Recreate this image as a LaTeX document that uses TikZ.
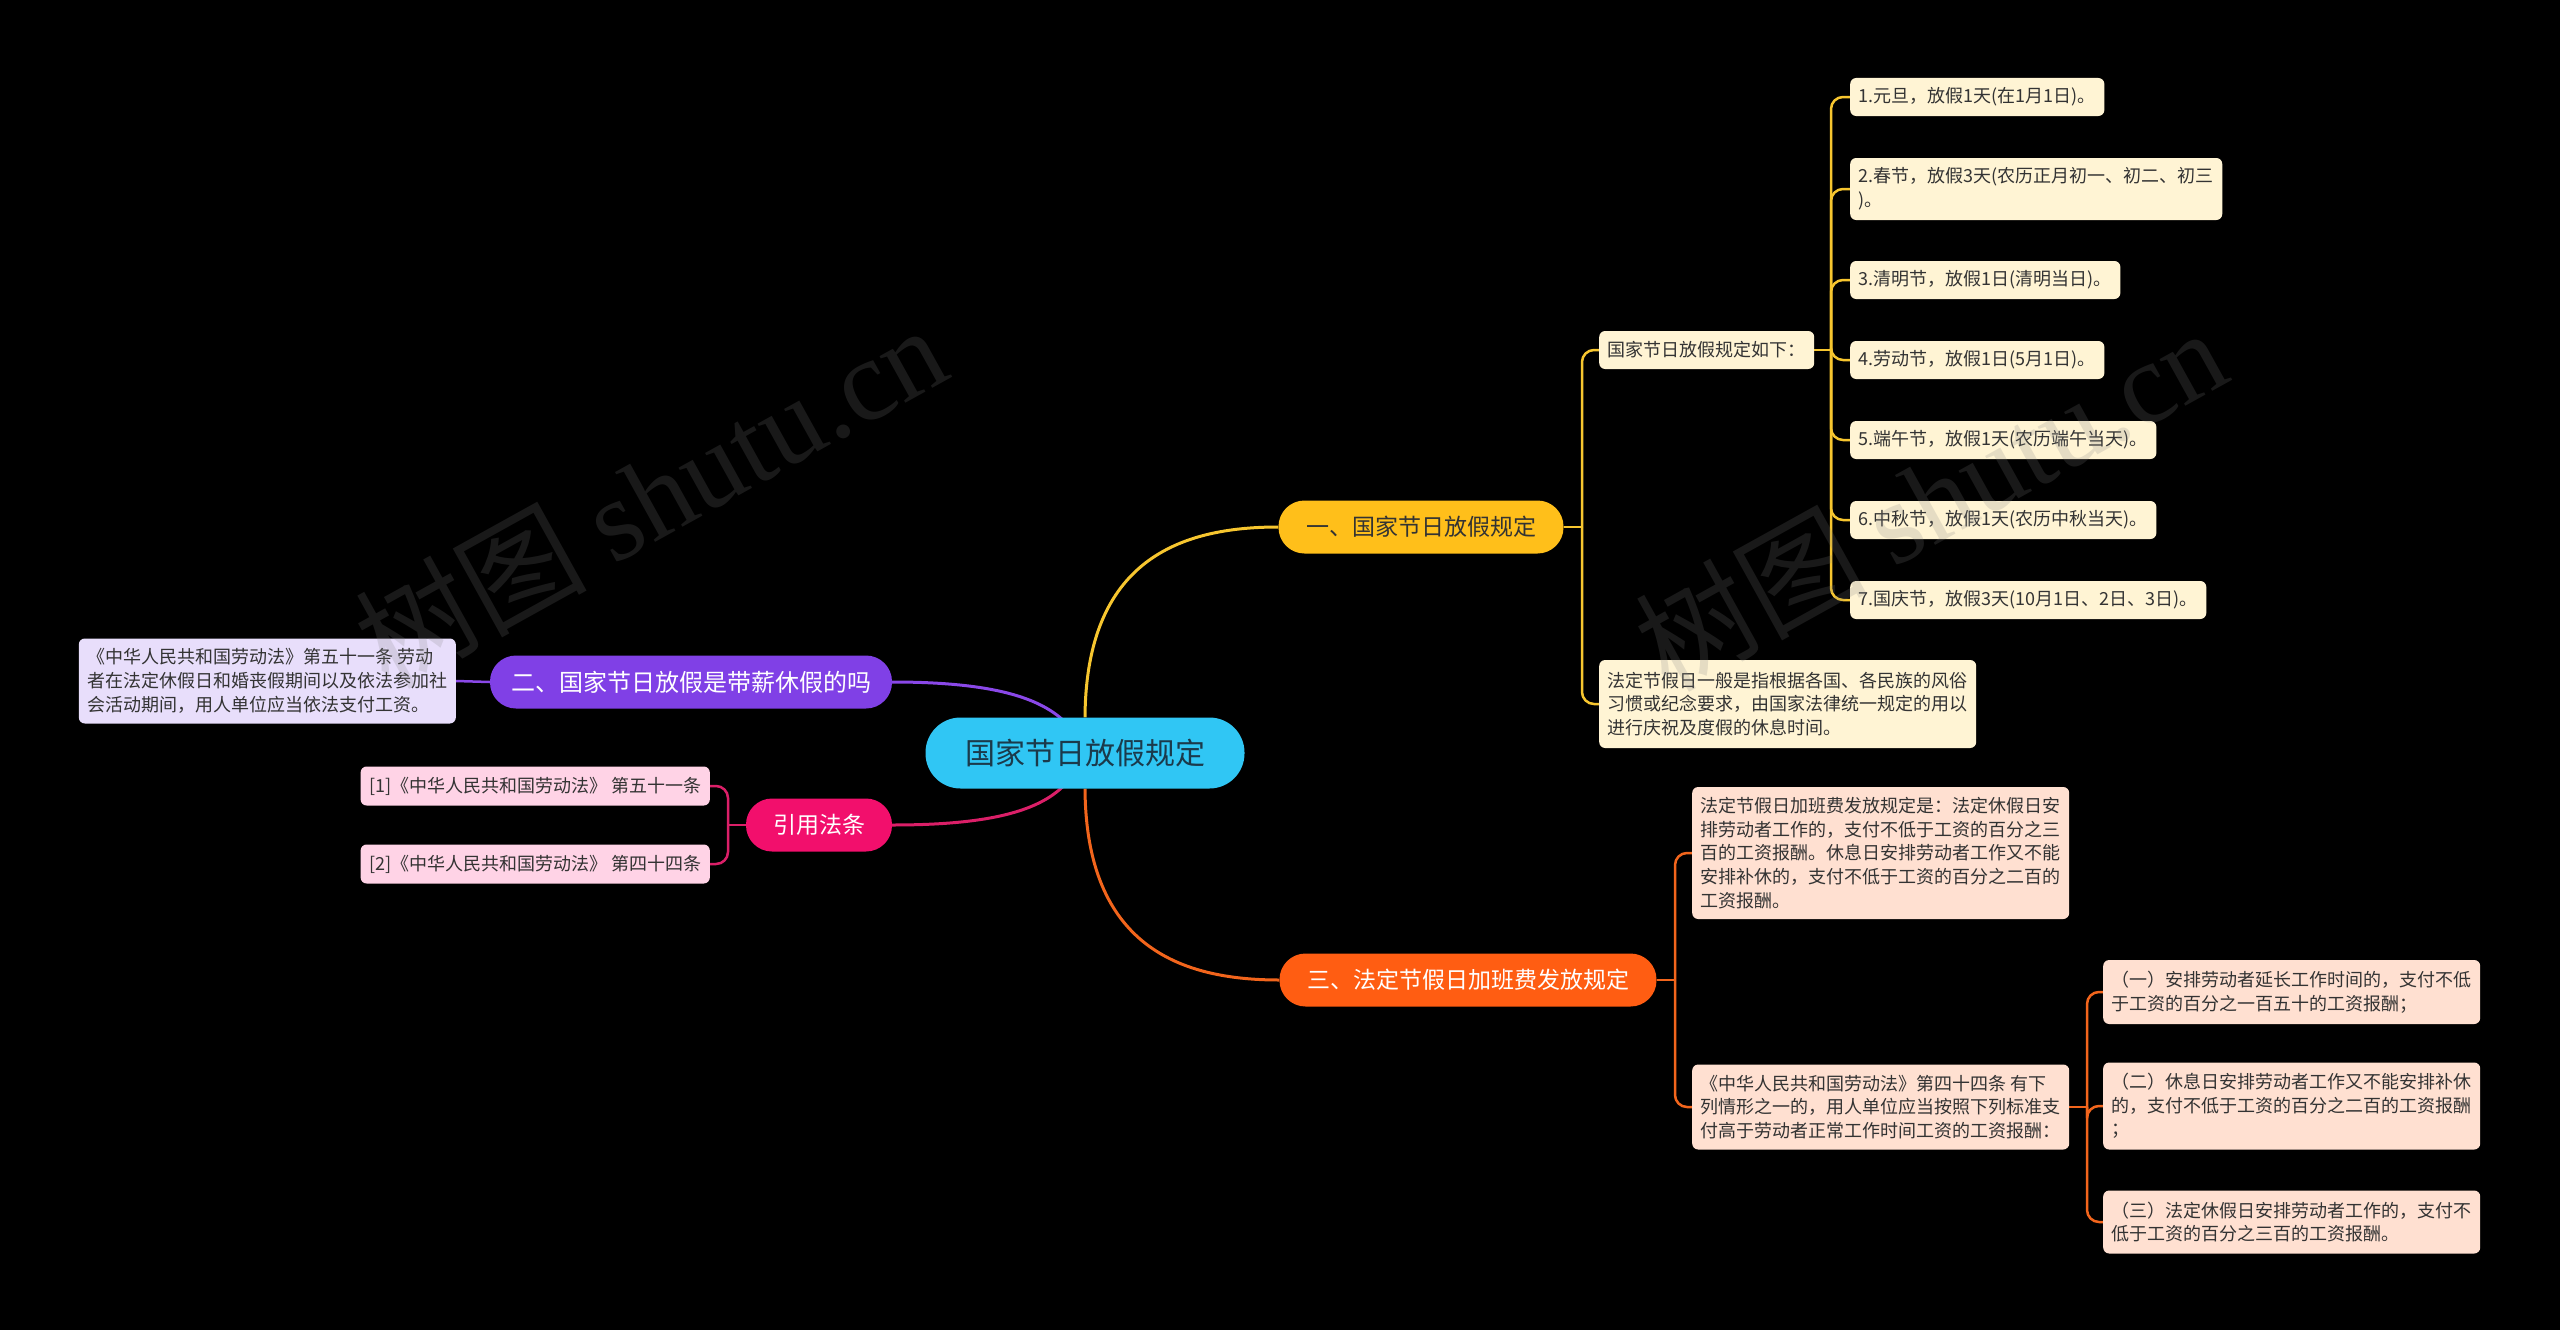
\documentclass[tikz,border=0pt]{standalone}
\usepackage{fontspec}
\setmainfont{Noto Sans CJK SC}
\newfontfamily\wmserif{Liberation Serif}
\usetikzlibrary{calc}
\pgfdeclarelayer{bg}
\pgfdeclarelayer{canvas}
\pgfsetlayers{canvas,bg,main}
\definecolor{cCentral}{HTML}{30C6F4}
\definecolor{cCentralText}{HTML}{1B3A4B}
\definecolor{cBY}{HTML}{FFBF1A}
\definecolor{cBP}{HTML}{8040E6}
\definecolor{cBO}{HTML}{FF5D12}
\definecolor{cBK}{HTML}{F20F6C}
\definecolor{cLY}{HTML}{F7C62F}
\definecolor{cLP}{HTML}{8A48E8}
\definecolor{cLO}{HTML}{F2651C}
\definecolor{cLK}{HTML}{DB1F68}
\definecolor{cFY}{HTML}{FFF4D4}
\definecolor{cFO}{HTML}{FFE0D1}
\definecolor{cFP}{HTML}{E8DEFB}
\definecolor{cFK}{HTML}{FFD3E6}
\definecolor{cText}{HTML}{333333}
\begin{document}
\begin{tikzpicture}[x=1pt,y=-1pt,
  mainnode/.style={rectangle, rounded corners=35pt, fill=cCentral, text=cCentralText,
    font=\fontsize{30}{36}\selectfont, minimum width=319pt, minimum height=71pt, inner sep=0pt},
  branch/.style={rectangle, rounded corners=26pt, minimum height=53pt, inner sep=0pt,
    font=\fontsize{23}{28}\selectfont},
  leaf/.style={rectangle, rounded corners=6pt, inner xsep=8.5pt, inner ysep=4pt,
    font=\fontsize{18}{23.7}\selectfont, text=cText, align=left},
  yleaf/.style={leaf, fill=cFY, anchor=west},
  oleaf/.style={leaf, fill=cFO, anchor=west},
  pleaf/.style={leaf, fill=cFP, anchor=east},
  kleaf/.style={leaf, fill=cFK, anchor=east},
  mainline/.style={line width=3pt},
  subline/.style={line width=2.5pt, rounded corners=12pt},
  wm/.style={rotate=29, text=gray, text opacity=0.2, font=\fontsize{116}{116}\selectfont}
]
\begin{pgfonlayer}{canvas}
\fill[black] (0,0) rectangle (2560,1330);
\end{pgfonlayer}
\useasboundingbox (0,0) rectangle (2560,1330);

% central and branches
\node[mainnode] (c) at (1085,753) {国家节日放假规定};
\node[branch, fill=cBY, text=cText, minimum width=285pt] (b1) at (1421,527) {一、国家节日放假规定};
\node[branch, fill=cBP, text=white, minimum width=402pt, font=\fontsize{24}{28}\selectfont] (b2) at (691,682) {二、国家节日放假是带薪休假的吗};
\node[branch, fill=cBO, text=white, minimum width=377pt] (b3) at (1468,980) {三、法定节假日加班费发放规定};
\node[branch, fill=cBK, text=white, minimum width=146pt] (b4) at (819,825) {引用法条};

% yellow leaves
\node[yleaf, minimum height=38pt] (y1) at (1599,350) {国家节日放假规定如下：};
\node[yleaf, minimum height=88pt] (y2) at (1599,704) {法定节假日一般是指根据各国、各民族的风俗\\习惯或纪念要求，由国家法律统一规定的用以\\进行庆祝及度假的休息时间。};
\node[yleaf, minimum height=38pt] (c1) at (1850,97) {1.元旦，放假1天(在1月1日)。};
\node[yleaf, minimum height=62pt] (c2) at (1850,189) {2.春节，放假3天(农历正月初一、初二、初三\\)。};
\node[yleaf, minimum height=38pt] (c3) at (1850,280) {3.清明节，放假1日(清明当日)。};
\node[yleaf, minimum height=38pt] (c4) at (1850,360) {4.劳动节，放假1日(5月1日)。};
\node[yleaf, minimum height=38pt] (c5) at (1850,440) {5.端午节，放假1天(农历端午当天)。};
\node[yleaf, minimum height=38pt] (c6) at (1850,520) {6.中秋节，放假1天(农历中秋当天)。};
\node[yleaf, minimum height=38pt] (c7) at (1850,600) {7.国庆节，放假3天(10月1日、2日、3日)。};

% orange leaves
\node[oleaf, minimum height=132pt] (o1) at (1692,853) {法定节假日加班费发放规定是：法定休假日安\\排劳动者工作的，支付不低于工资的百分之三\\百的工资报酬。休息日安排劳动者工作又不能\\安排补休的，支付不低于工资的百分之二百的\\工资报酬。};
\node[oleaf, minimum height=85pt] (o2) at (1692,1107) {《中华人民共和国劳动法》第四十四条 有下\\列情形之一的，用人单位应当按照下列标准支\\付高于劳动者正常工作时间工资的工资报酬：};
\node[oleaf, minimum height=64pt] (o2a) at (2103,992) {（一）安排劳动者延长工作时间的，支付不低\\于工资的百分之一百五十的工资报酬；};
\node[oleaf, minimum height=87pt] (o2b) at (2103,1106) {（二）休息日安排劳动者工作又不能安排补休\\的，支付不低于工资的百分之二百的工资报酬\\；};
\node[oleaf, minimum height=63pt] (o2c) at (2103,1222) {（三）法定休假日安排劳动者工作的，支付不\\低于工资的百分之三百的工资报酬。};

% purple leaf
\node[pleaf, minimum height=85pt] (p1) at (456,681) {《中华人民共和国劳动法》第五十一条 劳动\\者在法定休假日和婚丧假期间以及依法参加社\\会活动期间，用人单位应当依法支付工资。};

% pink leaves
\node[kleaf, minimum height=39pt] (k1) at (710,786) {[1]《中华人民共和国劳动法》 第五十一条};
\node[kleaf, minimum height=39pt] (k2) at (710,864) {[2]《中华人民共和国劳动法》 第四十四条};

% trunk coordinates
\coordinate (t1) at (1582,527);
\coordinate (t2) at (1831,350);
\coordinate (t3) at (1675,980);
\coordinate (t4) at (2087,1107);
\coordinate (t5) at (728,825);
\coordinate (cp) at ($(c.north)+(-12,14)$);
\coordinate (ck) at ($(c.south)+(-12,-14)$);

\begin{pgfonlayer}{bg}
\draw[mainline, cLY] (c.north) .. controls (1086,560) and (1180,527) .. (b1.west);
\draw[mainline, cLO] (c.south) .. controls (1086,946) and (1180,980) .. (b3.west);
\draw[mainline, cLP] (b2.east) .. controls (1000,682) and (1050,700) .. (cp);
\draw[mainline, cLK] (b4.east) .. controls (1000,825) and (1050,808) .. (ck);

% yellow
\draw[subline, cLY] (b1.east) -- (t1);
\draw[subline, cLY] (t1) |- (y1.west);
\draw[subline, cLY] (t1) |- (y2.west);
\draw[subline, cLY] (y1.east) -- (t2);
\foreach \n in {c1,c2,c3,c4,c5,c6,c7} {\draw[subline, cLY] (t2) |- (\n.west);}
% orange
\draw[subline, cLO] (b3.east) -- (t3);
\draw[subline, cLO] (t3) |- (o1.west);
\draw[subline, cLO] (t3) |- (o2.west);
\draw[subline, cLO] (o2.east) -- (t4);
\foreach \n in {o2a,o2b,o2c} {\draw[subline, cLO] (t4) |- (\n.west);}
% purple
\draw[subline, cLP] (b2.west) -- (p1.east);
% pink
\draw[subline, cLK] (b4.west) -- (t5);
\draw[subline, cLK] (t5) |- (k1.east);
\draw[subline, cLK] (t5) |- (k2.east);
\end{pgfonlayer}

% watermarks
\node[wm] (wm1) at (650,495) {树图 {\wmserif shutu.cn}};
\node[wm] (wm2) at (1930,498) {树图 {\wmserif shutu.cn}};
\end{tikzpicture}
\end{document}
